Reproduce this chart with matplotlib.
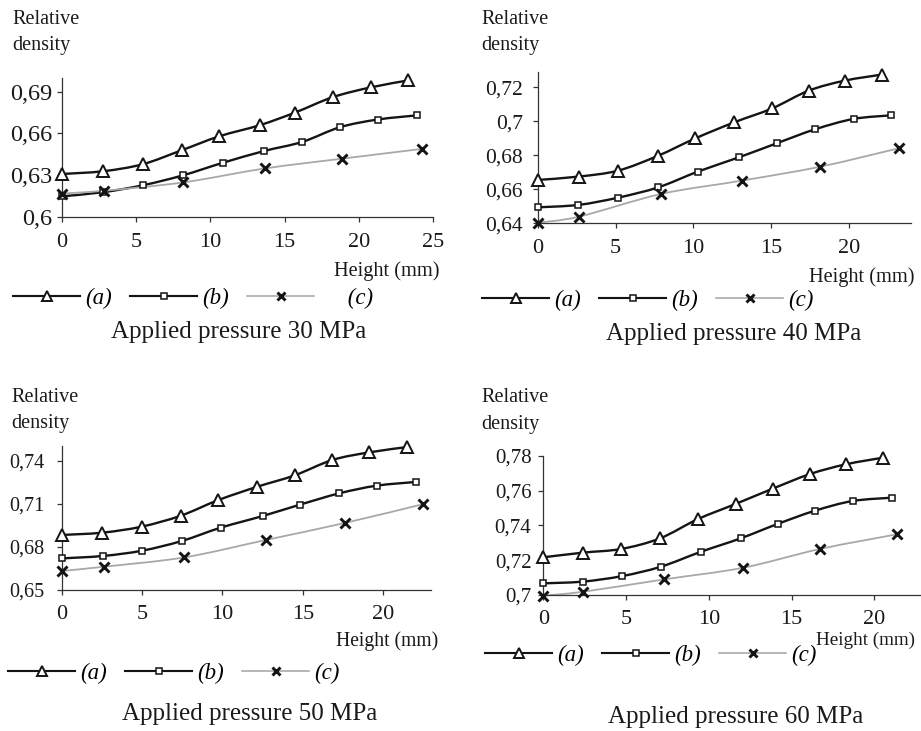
import matplotlib
matplotlib.use("Agg")
import matplotlib.pyplot as plt
from matplotlib.path import Path
from matplotlib.patches import PathPatch
from matplotlib.lines import Line2D
import numpy as np

plt.rcParams['font.family'] = ['Liberation Serif', 'DejaVu Serif']

# ---------------- data ----------------
titles = ["Applied pressure 30 MPa", "Applied pressure 40 MPa",
          "Applied pressure 50 MPa", "Applied pressure 60 MPa"]
series_labels = ["(a)", "(b)", "(c)"]

p30_a_x = [0, 2.8, 5.45, 8.07, 10.6, 13.34, 15.7, 18.23, 20.78, 23.3]
p30_a_y = [0.631, 0.633, 0.638, 0.648, 0.658, 0.666, 0.675, 0.686, 0.693, 0.698]
p30_b_x = [0, 2.8, 5.49, 8.14, 10.83, 13.63, 16.19, 18.72, 21.26, 23.92]
p30_b_y = [0.615, 0.618, 0.623, 0.630, 0.639, 0.6475, 0.654, 0.6645, 0.670, 0.673]
p30_c_x = [0, 2.85, 8.18, 13.68, 18.88, 24.26]
p30_c_y = [0.617, 0.619, 0.625, 0.635, 0.642, 0.649]

p40_a_x = [0, 2.66, 5.17, 7.7, 10.14, 12.63, 15.07, 17.41, 19.72, 22.14]
p40_a_y = [0.6655, 0.6675, 0.671, 0.6796, 0.690, 0.6994, 0.7076, 0.718, 0.7239, 0.7275]
p40_b_x = [0, 2.6, 5.17, 7.76, 10.29, 12.93, 15.37, 17.83, 20.3, 22.7]
p40_b_y = [0.6494, 0.6508, 0.6551, 0.6612, 0.6704, 0.6788, 0.6871, 0.6953, 0.7014, 0.7035]
p40_c_x = [0, 2.66, 7.95, 13.12, 18.16, 23.19]
p40_c_y = [0.6404, 0.6439, 0.6573, 0.6651, 0.6733, 0.6841]

p50_a_x = [0, 2.53, 4.98, 7.41, 9.75, 12.18, 14.5, 16.85, 19.15, 21.51]
p50_a_y = [0.6883, 0.6899, 0.6941, 0.7017, 0.7126, 0.7219, 0.7298, 0.7405, 0.7458, 0.7495]
p50_b_x = [0, 2.59, 5.02, 7.47, 9.9, 12.51, 14.83, 17.28, 19.6, 22.05]
p50_b_y = [0.672, 0.6737, 0.6774, 0.6841, 0.6934, 0.7015, 0.7094, 0.7173, 0.7226, 0.7252]
p50_c_x = [0, 2.63, 7.63, 12.7, 17.6, 22.51]
p50_c_y = [0.6632, 0.6662, 0.6727, 0.6848, 0.6966, 0.7098]

p60_a_x = [0, 2.42, 4.71, 7.05, 9.32, 11.62, 13.86, 16.11, 18.27, 20.5]
p60_a_y = [0.7217, 0.7244, 0.7265, 0.7326, 0.7436, 0.7524, 0.7612, 0.7696, 0.7752, 0.779]
p60_b_x = [0, 2.38, 4.77, 7.11, 9.53, 11.92, 14.16, 16.41, 18.69, 21.07]
p60_b_y = [0.7067, 0.7077, 0.7109, 0.7163, 0.7249, 0.7326, 0.7409, 0.7485, 0.7541, 0.756]
p60_c_x = [0, 2.42, 7.31, 12.08, 16.72, 21.35]
p60_c_y = [0.6996, 0.7019, 0.709, 0.7157, 0.7265, 0.7349]

x_ticks_30 = [0, 5, 10, 15, 20, 25]
x_ticks_other = [0, 5, 10, 15, 20]
y_ticks_30 = [0.6, 0.63, 0.66, 0.69]
y_ticklabels_30 = ["0,6", "0,63", "0,66", "0,69"]
y_ticks_40 = [0.64, 0.66, 0.68, 0.70, 0.72]
y_ticklabels_40 = ["0,64", "0,66", "0,68", "0,7", "0,72"]
y_ticks_50 = [0.65, 0.68, 0.71, 0.74]
y_ticklabels_50 = ["0,65", "0,68", "0,71", "0,74"]
y_ticks_60 = [0.70, 0.72, 0.74, 0.76, 0.78]
y_ticklabels_60 = ["0,7", "0,72", "0,74", "0,76", "0,78"]

# ---------------- layout (pixels) ----------------
W, H = 921, 731
fig = plt.figure(figsize=(W / 100, H / 100), dpi=100)

def fx(px):
    return px / W

def fy(py):
    return 1 - py / H

panels = [
    dict(data=[(p30_a_x, p30_a_y), (p30_b_x, p30_b_y), (p30_c_x, p30_c_y)],
         xlim=(0, 25), ylim=(0.6, 0.70), xt=x_ticks_30, yt=y_ticks_30, ytl=y_ticklabels_30,
         left=61.7, bottom=217.3, xscale=14.865, yscale=1396.7, ypad=3.0, ysize=17.5,
         rel=(12, 24, 50), hgt=(439, 276, 14.7), leg=(13, 298), tit=(239, 338),
         clab="     (c)"),
    dict(data=[(p40_a_x, p40_a_y), (p40_b_x, p40_b_y), (p40_c_x, p40_c_y)],
         xlim=(0, 24), ylim=(0.64, 0.729), xt=x_ticks_other, yt=y_ticks_40, ytl=y_ticklabels_40,
         left=537.7, bottom=223.3, xscale=15.56, yscale=1700, ypad=7.0, ysize=15.5,
         rel=(481.7, 24, 50), hgt=(914, 282, 14.7), leg=(482, 300), tit=(734, 340),
         clab="(c)"),
    dict(data=[(p50_a_x, p50_a_y), (p50_b_x, p50_b_y), (p50_c_x, p50_c_y)],
         xlim=(0, 23), ylim=(0.65, 0.75), xt=x_ticks_other, yt=y_ticks_50, ytl=y_ticklabels_50,
         left=61.7, bottom=590, xscale=16.07, yscale=1437, ypad=9.0, ysize=14.5,
         rel=(11, 402, 428), hgt=(438, 646, 14.1), leg=(8, 673), tit=(250, 720),
         clab="(c)"),
    dict(data=[(p60_a_x, p60_a_y), (p60_b_x, p60_b_y), (p60_c_x, p60_c_y)],
         xlim=(0, 22.8), ylim=(0.70, 0.78), xt=x_ticks_other, yt=y_ticks_60, ytl=y_ticklabels_60,
         left=543.3, bottom=595, xscale=16.55, yscale=1737.5, ypad=5.0, ysize=15,
         rel=(481.7, 402, 429), hgt=(915, 645, 13.8), leg=(485, 655), tit=(736, 723),
         clab="(c)"),
]

styles = [
    dict(color="#141414", lw=1.7, marker="^", ms=8, mew=1.4, mfc="white", mec="#141414"),
    dict(color="#141414", lw=1.7, marker="s", ms=5.0, mew=1.1, mfc="white", mec="#141414"),
    dict(color="#a8a8a8", lw=1.3, marker="x", ms=7.2, mew=2.1, mfc="none", mec="#141414"),
]


def smooth_path(xs, ys):
    pts = np.column_stack([xs, ys]).astype(float)
    n = len(pts)
    verts = [pts[0]]
    codes = [Path.MOVETO]
    for i in range(n - 1):
        p0 = pts[i - 1] if i > 0 else pts[i]
        p1 = pts[i]
        p2 = pts[i + 1]
        p3 = pts[i + 2] if i + 2 < n else pts[i + 1]
        c1 = p1 + (p2 - p0) / 6.0
        c2 = p2 - (p3 - p1) / 6.0
        verts += [c1, c2, p2]
        codes += [Path.CURVE4] * 3
    return Path(verts, codes)


for p in panels:
    x0, x1 = p["xlim"]
    y0, y1 = p["ylim"]
    wpx = (x1 - x0) * p["xscale"]
    hpx = (y1 - y0) * p["yscale"]
    ax = fig.add_axes([fx(p["left"]), fy(p["bottom"]), fx(wpx), hpx / H])
    ax.set_xlim(x0, x1)
    ax.set_ylim(y0, y1)
    ax.patch.set_alpha(0)
    for s in ["top", "right"]:
        ax.spines[s].set_visible(False)
    for s in ["left", "bottom"]:
        ax.spines[s].set_color("#333333")
        ax.spines[s].set_linewidth(0.9)
    ax.set_xticks(p["xt"])
    ax.set_xticklabels([str(v) for v in p["xt"]])
    ax.set_yticks(p["yt"])
    ax.set_yticklabels(p["ytl"])
    ax.tick_params(direction="out", length=3.5, width=0.9, color="#333333",
                   labelcolor="#1a1a1a")
    ax.tick_params(axis="x", labelsize=16, pad=7.5)
    ax.tick_params(axis="y", labelsize=p["ysize"], pad=p["ypad"])

    # lines first, then markers on top
    for (xs, ys), st in zip(p["data"], styles):
        patch = PathPatch(smooth_path(xs, ys), fill=False, edgecolor=st["color"],
                          lw=st["lw"], clip_on=False, zorder=2, capstyle="round",
                          joinstyle="round")
        ax.add_patch(patch)
    for (xs, ys), st in zip(p["data"], styles):
        ax.plot(xs, ys, linestyle="none", marker=st["marker"], ms=st["ms"],
                mew=st["mew"], mfc=st["mfc"], mec=st["mec"], clip_on=False, zorder=3)

    # texts
    rx, rb1, rb2 = p["rel"]
    fig.text(fx(rx), fy(rb1), "Relative", fontsize=14.5, va="baseline", ha="left", color="#1a1a1a")
    fig.text(fx(rx), fy(rb2), "density", fontsize=14.5, va="baseline", ha="left", color="#1a1a1a")
    hx, hb, hs = p["hgt"]
    fig.text(fx(hx), fy(hb), "Height (mm)", fontsize=hs, va="baseline", ha="right", color="#1a1a1a")

    # legend
    handles = [Line2D([], [], color=st["color"], lw=st["lw"] * 0.9, marker=st["marker"],
                      ms=st["ms"] * 0.85, mew=st["mew"], mfc=st["mfc"], mec=st["mec"])
               for st in styles]
    labels = [series_labels[0], series_labels[1], p["clab"]]
    lx, ly = p["leg"]
    fig.legend(handles, labels, loc="center left", bbox_to_anchor=(fx(lx), fy(ly)),
               ncol=3, frameon=False, borderpad=0, borderaxespad=0,
               handlelength=2.93, handletextpad=0.22, columnspacing=0.79, numpoints=1,
               prop=dict(family="Liberation Serif", style="italic", size=16.5))

for p, t in zip(panels, titles):
    tx, tb = p["tit"]
    fig.text(fx(tx), fy(tb), t, fontsize=18, ha="center", va="baseline", color="#1a1a1a")

fig.savefig("out.png", dpi=100)
